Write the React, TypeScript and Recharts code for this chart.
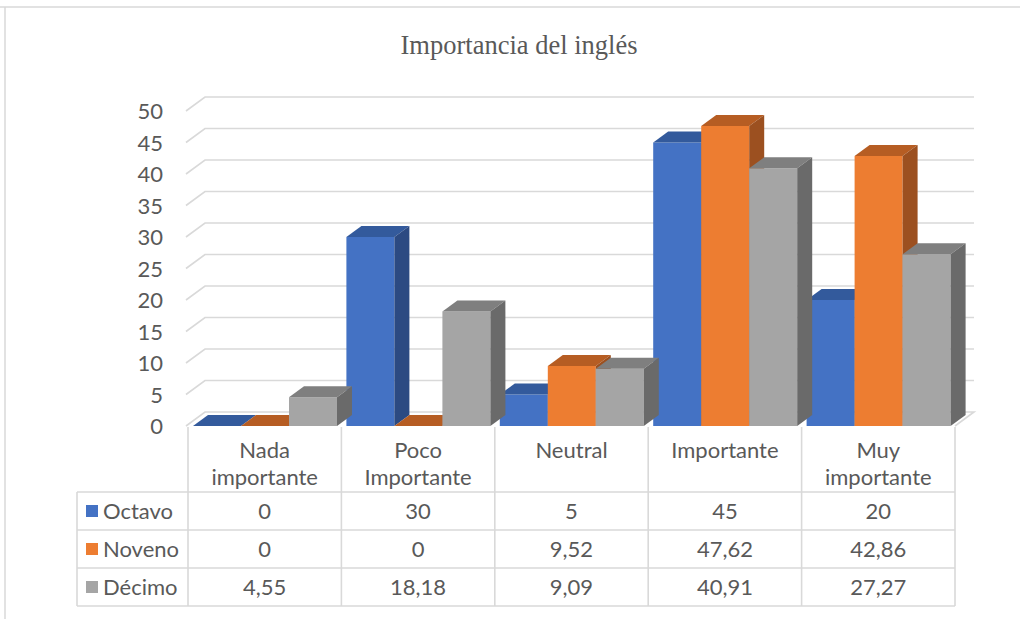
import React from "react";
import { BarChart, Bar, XAxis, YAxis, CartesianGrid } from "recharts";

const categories = ["Nada importante", "Poco Importante", "Neutral", "Importante", "Muy importante"];
const octavo = [0, 30, 5, 45, 20];
const noveno = [0, 0, 9.52, 47.62, 42.86];
const decimo = [4.55, 18.18, 9.09, 40.91, 27.27];
const seriesNames = ["Octavo", "Noveno", "Décimo"];
const yTicks = [0, 5, 10, 15, 20, 25, 30, 35, 40, 45, 50];
const title = "Importancia del inglés";

const seriesValues = [octavo, noveno, decimo];
const seriesKeys = ["o", "n", "d"];
const fronts = ["#4472C4", "#ED7D31", "#A5A5A5"];
const tops = ["#335A9C", "#B65D23", "#7F7F7F"];
const sides = ["#2C4A82", "#9C5020", "#6A6A6A"];

const data = categories.map((name, i) => ({
  name,
  o: octavo[i],
  n: noveno[i],
  d: decimo[i],
}));

const W = 1020;
const H = 619;
const PL = 188; // plot left
const PR = 955; // plot right
const PT = 111; // plot top
const XH = 66; // x axis (header row) height
const MB = 127; // bottom margin (rest of table)
const PB = H - MB - XH; // plot bottom
const GDX = 19;
const GDY = 14;
const BDX = 15;
const BDY = 11;
const TXT = "#595959";
const LINE = "#D9D9D9";
const FONT = "Lato, 'Noto Sans', sans-serif";
const FS = 22;

const make3D = (front: string, top: string, side: string) => (props: any) => {
  const { x, y, width: w, height: h } = props;
  if (x == null || y == null) return <g />;
  const hh = Math.max(0, h || 0);
  return (
    <g>
      <path d={`M${x},${y + hh}L${x},${y}L${x + w},${y}L${x + w},${y + hh}Z`} fill={front} />
      <path
        d={`M${x},${y}L${x + BDX},${y - BDY}L${x + w + BDX},${y - BDY}L${x + w},${y}Z`}
        fill={top}
      />
      <path
        d={`M${x + w},${y}L${x + w + BDX},${y - BDY}L${x + w + BDX},${y + hh - BDY}L${x + w},${y + hh}Z`}
        fill={side}
      />
    </g>
  );
};

const gridLine = (p: any) => {
  const { x1, x2, y1 } = p;
  const isFloor = Math.abs(y1 - PB) < 1;
  let d = `M${x1 - 2},${y1}L${x1 - 2 + GDX},${y1 - GDY}L${x2 + GDX},${y1 - GDY}`;
  if (isFloor) d += `L${x2},${y1}`;
  return <path key={`grid-${y1}`} d={d} stroke={LINE} strokeWidth={1.6} fill="none" />;
};

const YTick = (props: any) => {
  const { y, payload } = props;
  return (
    <text x={PL - 25} y={y} dy={8} textAnchor="end" fontSize={FS} fill={TXT} fontFamily={FONT}>
      {payload.value}
    </text>
  );
};

const XTick = (props: any) => {
  const { x, payload } = props;
  const label: string = payload.value;
  const sp = label.indexOf(" ");
  const lines = sp > 0 ? [label.slice(0, sp), label.slice(sp + 1)] : [label];
  return (
    <g>
      {lines.map((l, i) => (
        <text
          key={i}
          x={x}
          y={PB + 32 + i * 27}
          textAnchor="middle"
          fontSize={FS}
          fill={TXT}
          fontFamily={FONT}
        >
          {l}
        </text>
      ))}
    </g>
  );
};

const fmt = (v: number) => String(v).replace(".", ",");

export default function App() {
  const band = (PR - PL) / categories.length;
  const rowTop = 492;
  const rowH = 38;
  const tableLeft = 77;
  const tableBottom = rowTop + rowH * seriesNames.length;
  return (
    <div style={{ position: "absolute", left: 0, top: 0, width: W, height: H, background: "#fff" }}>
      <BarChart
        width={W}
        height={H}
        data={data}
        margin={{ top: PT, right: W - PR, bottom: MB, left: 0 }}
        barCategoryGap={5}
        barGap={0}
      >
        <CartesianGrid vertical={false} horizontal={gridLine} />
        <YAxis
          width={PL}
          domain={[0, 50]}
          ticks={yTicks}
          axisLine={false}
          tickLine={false}
          tick={<YTick />}
          interval={0}
        />
        <XAxis
          dataKey="name"
          height={XH}
          axisLine={false}
          tickLine={false}
          tick={<XTick />}
          interval={0}
        />
        {seriesKeys.map((k, i) => (
          <Bar
            key={k}
            dataKey={k}
            name={seriesNames[i]}
            fill={fronts[i]}
            isAnimationActive={false}
            shape={make3D(fronts[i], tops[i], sides[i])}
          />
        ))}
      </BarChart>
      <svg
        width={W}
        height={H}
        style={{ position: "absolute", left: 0, top: 0, pointerEvents: "none" }}
      >
        {/* outer frame */}
        <line x1={0} y1={7} x2={W} y2={7} stroke={LINE} strokeWidth={1.5} />
        <line x1={5} y1={7} x2={5} y2={H} stroke={LINE} strokeWidth={1.5} />
        <text
          x={519}
          y={54}
          textAnchor="middle"
          fontSize={26.5}
          fill={TXT}
          fontFamily="'Liberation Serif', 'DejaVu Serif', serif"
        >
          {title}
        </text>
        {/* table lines */}
        {categories.map((_, i) => (
          <line
            key={`v${i}`}
            x1={PL + i * band}
            y1={PB + 1}
            x2={PL + i * band}
            y2={tableBottom}
            stroke={LINE}
            strokeWidth={1.6}
          />
        ))}
        <line x1={PR} y1={PB + 1} x2={PR} y2={tableBottom} stroke={LINE} strokeWidth={1.6} />
        <line x1={tableLeft} y1={rowTop} x2={tableLeft} y2={tableBottom} stroke={LINE} strokeWidth={1.6} />
        {[0, 1, 2, 3].map((r) => (
          <line
            key={`h${r}`}
            x1={tableLeft}
            y1={rowTop + r * rowH}
            x2={PR}
            y2={rowTop + r * rowH}
            stroke={LINE}
            strokeWidth={1.6}
          />
        ))}
        {seriesNames.map((s, r) => {
          const cy = rowTop + r * rowH + rowH / 2;
          return (
            <g key={s}>
              <rect x={86} y={cy - 6} width={12} height={12} fill={fronts[r]} />
              <text x={103} y={cy + 8} fontSize={FS} fill={TXT} fontFamily={FONT}>
                {s}
              </text>
              {seriesValues[r].map((v, i) => (
                <text
                  key={i}
                  x={PL + (i + 0.5) * band}
                  y={cy + 8}
                  textAnchor="middle"
                  fontSize={FS}
                  fill={TXT}
                  fontFamily={FONT}
                >
                  {fmt(v)}
                </text>
              ))}
            </g>
          );
        })}
      </svg>
    </div>
  );
}
